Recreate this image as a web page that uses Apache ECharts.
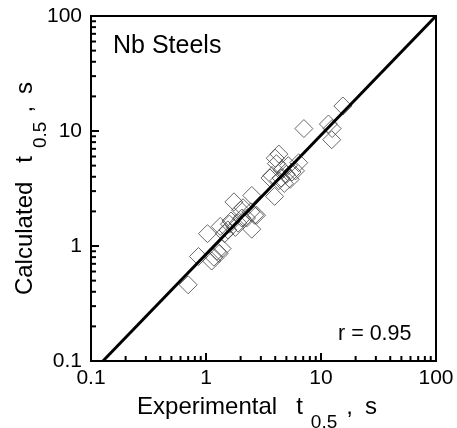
<!DOCTYPE html>
<html><head><meta charset="utf-8">
<script src="https://cdn.jsdelivr.net/npm/echarts@6/dist/echarts.min.js"></script>
<style>html,body{margin:0;padding:0;background:#fff}#c{width:457px;height:428px}</style>
</head><body><div id="c"></div>
<script>
// Data (experimental t0.5 vs calculated t0.5, seconds)
const experimental = [0.70,0.86,1.03,1.12,1.17,1.25,1.30,1.33,1.38,1.45,1.55,1.60,1.65,1.75,1.80,1.90,2.00,2.05,2.10,2.25,2.45,2.50,2.50,2.65,2.75,3.60,3.75,3.95,4.00,4.10,4.30,4.30,4.50,4.60,4.80,5.00,5.20,5.40,5.60,6.00,6.40,7.10,11.6,12.4,12.5,15.5];
const calculated   = [0.46,0.81,1.28,0.74,0.80,0.90,0.86,1.48,0.95,1.28,1.38,1.55,1.65,2.42,1.45,1.58,2.05,1.75,2.15,1.75,1.98,2.75,1.40,1.85,1.85,3.90,4.10,2.70,5.80,5.20,6.30,3.70,3.90,4.60,3.50,4.20,5.00,3.80,4.40,4.50,5.30,10.5,11.5,8.40,10.5,16.5];
const fitLineX = [0.127, 100];
const fitLineY = [0.1, 100];
const axisMin = 0.1, axisMax = 100;
const majorTicks = [0.1, 1, 10, 100];
const tickLabels = ['0.1', '1', '10', '100'];
const minorTicks = [0.2,0.3,0.4,0.5,0.6,0.7,0.8,0.9,2,3,4,5,6,7,8,9,20,30,40,50,60,70,80,90];
const annotationTitle = 'Nb Steels';
const annotationR = 'r = 0.95';
const xName = ['Experimental', 't', '0.5', ',', 's'];
const yName = ['Calculated', 't', '0.5', ',', 's'];

const FONT = '"Liberation Sans", Arial, sans-serif';
const chart = echarts.init(document.getElementById('c'), null, {renderer: 'canvas'});

function labelFmt(v) {
  for (let i = 0; i < majorTicks.length; i++) {
    if (Math.abs(Math.log10(v) - Math.log10(majorTicks[i])) < 1e-6) return tickLabels[i];
  }
  return '';
}

function makeRich(trailPad) {
  const base = {fontSize: 24, fontFamily: FONT, color: '#000', lineHeight: 24, verticalAlign: 'top'};
  return {
    m: Object.assign({}, base),
    t: Object.assign({}, base, {padding: [0, 0, 0, 19]}),
    s: {fontSize: 19, fontFamily: FONT, color: '#000', lineHeight: 56, padding: [0, 0, 0, 8]},
    c: Object.assign({}, base, {padding: [0, 0, 0, 9]}),
    e: Object.assign({}, base, {padding: [0, trailPad, 0, 12]})
  };
}
function makeName(parts) {
  return '{m|' + parts[0] + '}{t|' + parts[1] + '}{s|' + parts[2] + '}{c|' + parts[3] + '}{e|' + parts[4] + '}';
}

function axisCommon() {
  return {
    type: 'log', logBase: 10, min: axisMin, max: axisMax,
    nameMoveOverlap: false,
    axisLine: {show: true, lineStyle: {color: '#000', width: 2}},
    axisTick: {show: true, inside: true, length: 8, lineStyle: {color: '#000', width: 2}},
    minorTick: {show: false},
    splitLine: {show: false},
    axisLabel: {color: '#000', fontSize: 21, fontFamily: FONT, formatter: labelFmt, showMinLabel: true, showMaxLabel: true}
  };
}

const xAxis = Object.assign(axisCommon(), {
  name: makeName(xName),
  nameLocation: 'middle', nameGap: 34,
  nameTextStyle: {rich: makeRich(13)}
});
xAxis.axisLabel.margin = 7;
const yAxis = Object.assign(axisCommon(), {
  name: makeName(yName),
  nameLocation: 'middle', nameGap: 22, nameRotate: 90,
  nameTextStyle: {rich: makeRich(0)}
});
yAxis.axisLabel.margin = 9;

function tickRenderer(dir) {
  return function (params, api) {
    const p = api.coord([api.value(0), api.value(1)]);
    const shape = dir === 'x'
      ? {x1: p[0], y1: p[1], x2: p[0], y2: p[1] - 5}
      : {x1: p[0], y1: p[1], x2: p[0] + 5, y2: p[1]};
    return {type: 'line', shape: shape, style: {stroke: '#000', lineWidth: 2}};
  };
}

chart.setOption({
  animation: false,
  backgroundColor: '#fff',
  grid: {left: 91, top: 16, width: 345, height: 345, containLabel: false, outerBoundsMode: 'none',
         show: true, borderColor: '#000', borderWidth: 2, backgroundColor: 'transparent'},
  xAxis: xAxis,
  yAxis: yAxis,
  graphic: [
    {type: 'text', left: 113, top: 34, style: {text: annotationTitle, fontSize: 25, fontFamily: FONT, fill: '#000'}},
    {type: 'text', left: 338, top: 323, style: {text: annotationR, fontSize: 21.5, fontFamily: FONT, fill: '#000'}}
  ],
  series: [
    {
      type: 'scatter', z: 2,
      data: experimental.map((x, i) => [x, calculated[i]]),
      symbol: 'diamond', symbolSize: 18,
      itemStyle: {color: 'rgba(0,0,0,0)', borderColor: '#444', borderWidth: 1}
    },
    {
      type: 'line', z: 3,
      data: fitLineX.map((x, i) => [x, fitLineY[i]]),
      symbol: 'none', lineStyle: {color: '#000', width: 3}
    },
    {
      type: 'custom', z: 4, clip: false, silent: true,
      data: minorTicks.map(v => [v, axisMin]),
      renderItem: tickRenderer('x')
    },
    {
      type: 'custom', z: 4, clip: false, silent: true,
      data: minorTicks.map(v => [axisMin, v]),
      renderItem: tickRenderer('y')
    }
  ]
});
</script>
</body></html>
